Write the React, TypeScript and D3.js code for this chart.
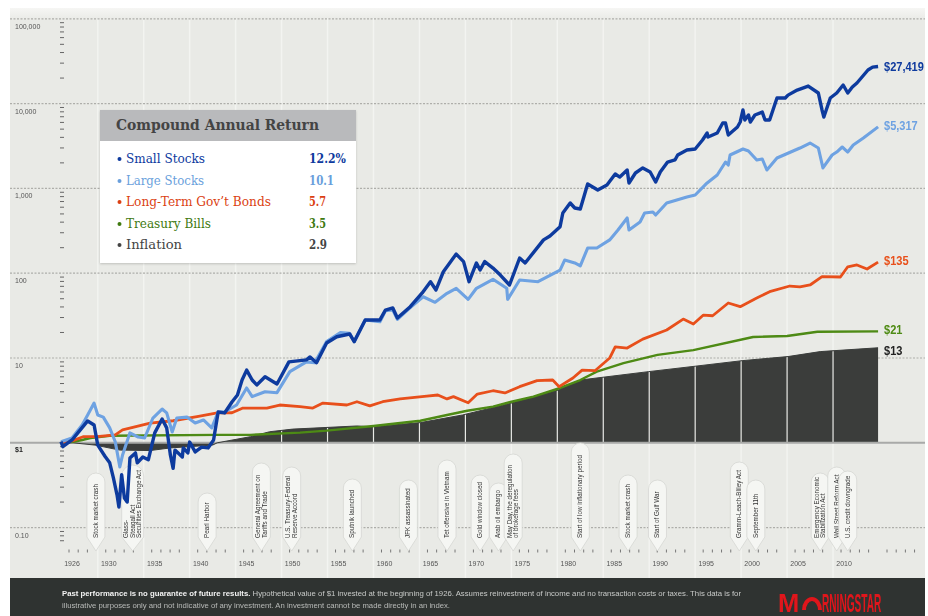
import React from "react";
import * as d3 from "d3";

const smallYears = [1926.0,1926.2,1927.2,1928.1,1928.9,1929.6,1930.0,1930.8,1931.3,1931.7,1932.1,1932.3,1932.6,1932.9,1933.2,1933.5,1934.1,1934.3,1934.9,1935.5,1936.2,1937.0,1937.5,1937.9,1938.2,1938.4,1939.2,1939.3,1939.8,1940.0,1940.6,1941.3,1942.0,1942.6,1943.1,1943.8,1944.6,1945.2,1945.7,1946.2,1946.8,1947.3,1948.2,1949.5,1950.8,1952.7,1953.1,1953.8,1954.9,1956.0,1957.4,1957.9,1959.1,1960.7,1961.3,1962.1,1962.6,1964.0,1965.3,1966.2,1966.8,1967.6,1969.0,1969.8,1970.4,1971.2,1971.6,1972.1,1973.0,1973.8,1974.8,1975.9,1976.5,1978.5,1979.2,1980.3,1980.6,1981.4,1981.9,1982.5,1983.3,1984.4,1985.4,1986.3,1986.8,1987.6,1987.8,1988.5,1989.3,1990.1,1990.7,1991.2,1992.0,1992.8,1993.1,1994.1,1995.0,1995.8,1996.3,1996.4,1997.4,1998.0,1998.3,1998.6,1999.6,1999.9,2000.2,2000.4,2000.8,2001.0,2001.5,2002.3,2002.6,2003.1,2003.9,2004.8,2005.1,2006.1,2007.3,2008.4,2008.8,2009.0,2009.7,2010.4,2011.1,2011.6,2012.1,2012.6,2013.8,2014.3,2014.9];
const smallValues = [1.03,0.9,1.08,1.42,1.81,1.62,0.94,0.69,0.58,0.385,0.242,0.175,0.42,0.223,0.2,0.66,0.76,0.58,0.68,0.63,1.31,1.91,1.5,0.72,0.5,0.82,0.68,0.87,0.76,1.02,0.78,0.89,0.87,1.08,2.31,2.25,3.03,3.66,5.5,7.2,5.5,4.81,6.0,4.94,9.0,9.5,10.3,8.8,15.0,17.8,19.2,15.6,28.1,28.1,36.8,38.9,29.6,40.3,58.5,79.4,63.4,104,168,137,79.4,132,109,137,115,95,72.6,151,132,247,275,354,513,673,587,571,1127,957,1096,1479,1361,1648,1159,1520,1742,1560,1189,1560,2046,2163,2477,2838,2917,3724,4498,4036,4498,5902,5902,4266,5300,6067,8414,6412,7345,6067,7345,7943,6412,6412,11640,11640,12590,14450,16100,13340,8414,6950,11640,13340,16560,13340,15700,17500,24900,26900,27419];

const largeYears = [1926.0,1927.2,1928.3,1928.9,1929.6,1930.0,1930.6,1931.3,1931.9,1932.4,1932.7,1933.5,1934.4,1935.1,1936.0,1937.0,1937.5,1938.1,1938.6,1939.7,1940.6,1941.5,1942.4,1943.1,1943.8,1945.1,1946.2,1946.8,1948.2,1949.5,1950.9,1952.7,1953.6,1954.9,1956.4,1957.4,1957.9,1959.1,1960.7,1961.3,1962.1,1962.6,1964.0,1965.4,1966.7,1968.0,1969.0,1970.3,1971.2,1973.0,1974.5,1974.6,1975.9,1977.9,1980.3,1980.8,1981.9,1982.5,1983.3,1984.3,1985.7,1986.6,1987.6,1987.8,1989.0,1989.5,1990.4,1990.7,1991.9,1994.1,1995.0,1996.3,1997.4,1998.3,1998.6,1998.8,2000.2,2000.8,2001.7,2002.3,2002.8,2003.9,2006.4,2007.5,2008.4,2008.9,2009.9,2010.4,2011.0,2011.6,2012.2,2013.3,2014.9];
const largeValues = [1.03,1.14,1.62,2.13,2.94,2.13,2.01,1.5,1.03,0.52,0.72,1.31,1.17,1.14,1.96,2.5,2.25,1.34,1.96,2.01,1.71,1.86,1.5,2.31,2.31,2.79,4.43,3.5,4.0,3.9,6.9,9.0,8.8,15.6,19.9,19.6,15.6,28.1,26.8,36.1,36.8,28.6,39.2,52.8,45.4,57.9,66.4,49.2,66.4,84.7,66.4,49.2,83.2,79.4,109,143,132,122,198,198,247,323,448,323,402,513,527,485,673,792,836,1159,1439,2046,1888,2477,2917,2761,2163,2223,1648,2282,2993,3429,2993,1742,2477,2685,3076,2685,3251,3926,5317];

const bondYears = [1926.0,1927.3,1928.4,1929.9,1931.9,1932.7,1935.7,1938.2,1940.8,1943.0,1944.6,1945.8,1948.4,1949.8,1952.0,1953.4,1954.5,1957.1,1958.2,1959.6,1961.0,1962.9,1965.8,1967.0,1968.0,1968.7,1970.3,1971.3,1973.0,1974.3,1975.9,1977.8,1979.5,1980.2,1981.7,1982.7,1984.1,1985.7,1986.3,1987.6,1989.3,1991.9,1993.7,1994.8,1995.9,1996.9,1998.6,1999.9,2001.7,2003.1,2005.3,2006.4,2007.5,2008.8,2010.8,2011.6,2012.6,2013.7,2014.9];
const bondValues = [1.0,1.06,1.18,1.18,1.24,1.42,1.71,1.82,2.03,2.25,2.26,2.57,2.57,2.79,2.67,2.57,2.94,2.79,3.05,2.72,3.05,3.29,3.56,3.66,3.29,3.5,2.97,3.76,4.11,3.87,4.59,5.4,5.5,4.59,5.81,7.2,7.08,10.0,13.5,13.1,16.7,21.4,28.8,25.2,32.1,31.5,44.5,40.3,51,60.5,70.6,68.8,72.6,91,90.2,119,125,112,135];

const billYears = [1926.0,1927.3,1928.3,1929.2,1931.3,1943.0,1946.6,1952.0,1954.9,1960.0,1962.9,1965.1,1968.0,1970.2,1973.0,1974.9,1977.4,1980.3,1982.5,1984.3,1987.2,1990.9,1994.8,2001.3,2005.0,2008.3,2014.9];
const billValues = [1.0,1.03,1.08,1.14,1.21,1.24,1.24,1.32,1.39,1.58,1.71,1.82,2.13,2.39,2.67,3.03,3.5,4.43,5.5,6.9,8.7,10.9,12.4,17.7,18.2,20.4,20.6];

const inflationYears = [1926.0,1927.3,1929.7,1932.4,1935.7,1937.9,1942.5,1943.0,1946.6,1948.7,1951.2,1958.2,1960.0,1965.1,1969.7,1974.9,1980.1,1982.5,1989.9,1995.0,2000.1,2005.1,2008.6,2014.9];
const inflationValues = [1.0,1.0,0.94,0.82,0.81,0.87,0.94,1.0,1.18,1.35,1.45,1.58,1.55,1.73,2.13,2.92,4.19,5.5,6.9,8.0,9.3,10.4,11.9,13.2];

const xLabelYears = [1926,1930,1935,1940,1945,1950,1955,1960,1965,1970,1975,1980,1985,1990,1995,2000,2005,2010];
const decades = [100000,10000,1000,100,10,0.1];
const yLabels = ["100,000","10,000","1,000","100","10","$1","0.10"];
const yLabelValues = [100000,10000,1000,100,10,1,0.1];

const legendNames = ["Small Stocks","Large Stocks","Long-Term Gov\u2019t Bonds","Treasury Bills","Inflation"];
const legendReturns = ["12.2%","10.1","5.7","3.5","2.9"];
const endLabels = ["$27,419","$5,317","$135","$21","$13"];
const endValues = [27419,5317,135,20.6,13.2];

const eventYears = [1929.8,1933.8,1941.9,1947.8,1951.1,1957.7,1963.8,1968,1971.6,1973.6,1975.2,1982.5,1987.7,1990.9,1999.8,2001.6,2008.6,2010.4,2011.6];
const eventLabels = [
  ["Stock market crash"],
  ["Glass-","Steagall Act","Securities Exchange Act"],
  ["Pearl Harbor"],
  ["General Agreement on","Tariffs and Trade"],
  ["U.S. Treasury-Federal","Reserve Accord"],
  ["Sputnik launched"],
  ["JFK assassinated"],
  ["Tet offensive in Vietnam"],
  ["Gold window closed"],
  ["Arab oil embargo"],
  ["May Day, the deregulation","of brokerage fees"],
  ["Start of low inflationary period"],
  ["Stock market crash"],
  ["Start of Gulf War"],
  ["Gramm-Leach-Bliley Act"],
  ["September 11th"],
  ["Emergency Economic","Stabilization Act"],
  ["Wall Street Reform Act"],
  ["U.S. credit downgrade"],
];
const eventTops = [473,465,493,463,467,479,480,460,475,483,454,443,475,480,462,480,473,467,471];

const colors = ["#0f3a9e","#6ea2e2","#e8501a","#4d8a12","#222"];
const legendColors = ["#0d3a9e","#6a9fdc","#db3f12","#3f7a10","#444"];

const x = d3.scaleLinear().domain([1926, 2015]).range([61, 879]);
const y = d3.scaleLog().domain([0.1, 100000]).range([527.6, 18.8]);

const pairs = (a: number[], b: number[]) => a.map((t, i) => [t, b[i]] as [number, number]);
const line = d3.line<[number, number]>().x(d => x(d[0])).y(d => y(d[1])).curve(d3.curveLinear);
const area = d3.area<[number, number]>().x(d => x(d[0])).y0(y(1)).y1(d => y(d[1]));

const minorTicks: number[] = [];
[0.1, 1, 10, 100, 1000, 10000].forEach(d => {
  for (let k = 2; k <= 9; k++) minorTicks.push(d * k);
});
minorTicks.push(0.09, 0.08, 0.07);

const yearTicks = d3.range(1926, 2019).filter(t => t % 5 !== 4);
const gridYears = d3.range(1930, 2015, 5);

function calloutPath(cx: number, top: number, w: number) {
  const r = w / 2;
  const tip = 551;
  return `M${cx - r},${top + r} A${r},${r} 0 0 1 ${cx + r},${top + r} L${cx + r},${tip - 14} L${cx},${tip} L${cx - r},${tip - 14} Z`;
}

const SANS = "'Liberation Sans', Arial, sans-serif";
const SERIF = "'DejaVu Serif', serif";
const endOffsets = [5, 3, 3, 3, 7];
const legendBaselines = [163, 185, 206, 228, 249];
const legendNameWidths = [79, 78, 145, 85, 56];
const legendValueWidths = [37, 25, 17, 17, 18];

export default function App() {
  return (
    <svg width={928} height={616} style={{ position: "absolute", left: 0, top: 0, display: "block", background: "#fff" }}>
      <defs>
        <filter id="soft" x="-5%" y="-5%" width="110%" height="110%">
          <feGaussianBlur stdDeviation="0.6" />
        </filter>
        <filter id="softText" x="-5%" y="-5%" width="110%" height="110%">
          <feGaussianBlur stdDeviation="0.45" />
        </filter>
        <filter id="shadow" x="-5%" y="-5%" width="110%" height="110%">
          <feDropShadow dx="0" dy="1" stdDeviation="1.2" floodColor="#000" floodOpacity="0.18" />
        </filter>
        <linearGradient id="bgFade" x1="0" x2="0" y1="0" y2="1">
          <stop offset="0" stopColor="#f6f6f4" />
          <stop offset="1" stopColor="#e9eae6" />
        </linearGradient>
        <clipPath id="areaClip"><path d={area(pairs(inflationYears, inflationValues)) || ""} /></clipPath>
      </defs>

      <rect x={10} y={8} width={915} height={12} fill="url(#bgFade)" />
      <rect x={10} y={20} width={915} height={558} fill="#e9eae6" />

      <g filter="url(#soft)">
        {gridYears.map(t => (
          <line key={t} x1={x(t)} x2={x(t)} y1={18} y2={578} stroke="#f3f4f1" strokeWidth={1.4} />
        ))}
        {decades.map(d => (
          <line key={d} x1={10} x2={925} y1={y(d)} y2={y(d)} stroke="#aeaeaa" strokeWidth={1.2} strokeDasharray="2 1.5" />
        ))}
        <path d={area(pairs(inflationYears, inflationValues)) || ""} fill="#3a3d3b" />
        <g clipPath="url(#areaClip)">
          {gridYears.filter(t => t >= 1950).map(t => (
            <line key={t} x1={x(t)} x2={x(t)} y1={y(1)} y2={340} stroke="#e9eae6" strokeWidth={1.2} />
          ))}
        </g>
        <line x1={10} x2={925} y1={y(1)} y2={y(1)} stroke="#a9aaa8" strokeWidth={2} />

        {minorTicks.map(v => (
          <line key={v} x1={60} x2={64} y1={y(v)} y2={y(v)} stroke="#666" strokeWidth={1} />
        ))}
        {yearTicks.map(t => (
          <line key={t} x1={x(t) + 8} x2={x(t) + 8} y1={549.5} y2={552.5} stroke="#777" strokeWidth={1} />
        ))}

        {eventYears.map((t, i) => {
          const cx = x(t);
          const n = eventLabels[i].length;
          const w = n === 3 ? 22 : 18;
          return (
            <g key={i}>
              <path d={calloutPath(cx, eventTops[i], w)} fill="#f5f6f3" stroke="#d6d7d3" strokeWidth={0.8} />
              {eventLabels[i].map((s, j) => (
                <text key={j} transform={`translate(${cx + 2 + (j - (n - 1) / 2) * 6.5},538) rotate(-90)`}
                  fontFamily={SANS} fontSize={6.3} fill="#333">{s}</text>
              ))}
            </g>
          );
        })}

        <path d={line(pairs(inflationYears, inflationValues)) || ""} fill="none" stroke="#3a3d3b" strokeWidth={1} />
        <path d={line(pairs(billYears, billValues)) || ""} fill="none" stroke={colors[3]} strokeWidth={2.4} strokeLinejoin="round" />
        <path d={line(pairs(bondYears, bondValues)) || ""} fill="none" stroke={colors[2]} strokeWidth={2.8} strokeLinejoin="round" />
        <path d={line(pairs(largeYears, largeValues)) || ""} fill="none" stroke={colors[1]} strokeWidth={3.1} strokeLinejoin="round" />
        <path d={line(pairs(smallYears, smallValues)) || ""} fill="none" stroke={colors[0]} strokeWidth={3.4} strokeLinejoin="round" />

        {endLabels.map((s, i) => (
          <text key={s} transform={`translate(884,${y(endValues[i]) + endOffsets[i]}) scale(0.85,1)`}
            fontFamily={SANS} fontWeight={700} fontSize={13} fill={colors[i]}>{s}</text>
        ))}

        {yLabels.map((s, i) => (
          <text key={s} x={15} y={y(yLabelValues[i]) + (s === "$1" ? 9 : 10)} fontFamily={SANS} fontSize={7}
            fontWeight={s === "$1" ? 700 : 400} fill={s === "$1" ? "#222" : "#555"}>{s}</text>
        ))}
        {xLabelYears.map(t => (
          <text key={t} x={x(t) + 11} y={566} textAnchor="middle" fontFamily={SANS} fontSize={7} fill="#555">{t}</text>
        ))}
      </g>

      <rect x={925} y={0} width={3} height={616} fill="#fff" />

      <rect x={10} y={578} width={915} height={38} fill="#2f3331" />
      <g filter="url(#softText)">
        <text x={62} y={596} fontFamily={SANS} fontSize={6.9} fill="#c8cac8" textLength={679} lengthAdjust="spacingAndGlyphs">
          <tspan fontWeight={700} fill="#f2f2f2">Past performance is no guarantee of future results.</tspan>
          {" Hypothetical value of $1 invested at the beginning of 1926. Assumes reinvestment of income and no transaction costs or taxes. This data is for"}
        </text>
        <text x={62} y={608} fontFamily={SANS} fontSize={6.9} fill="#b8bab8" textLength={388} lengthAdjust="spacingAndGlyphs">
          illustrative purposes only and not indicative of any investment. An investment cannot be made directly in an index.
        </text>
        <text transform="translate(778,612) scale(1.02,1)" fontFamily={SANS} fontWeight={700} fontSize={25} fill="#e0141a">M</text>
        <path d="M802,610 A10,13 0 0 1 822,610 L818,610 A6,9 0 0 0 806,610 Z" fill="#e0141a" />
        <text transform="translate(822,612) scale(0.405,1)" fontFamily={SANS} fontWeight={700} fontSize={25} fill="#e0141a">RNINGSTAR</text>
      </g>

      <g filter="url(#shadow)">
        <rect x={100} y={110} width={256} height={153} fill="#fff" />
      </g>
      <rect x={100} y={110} width={256} height={31} fill="#b9babc" />
      <text x={116} y={130} fontFamily={SERIF} fontWeight={700} fontSize={14.5} fill="#444" textLength={203} lengthAdjust="spacingAndGlyphs">Compound Annual Return</text>
      {legendNames.map((s, i) => (
        <g key={s}>
          <circle cx={119.5} cy={legendBaselines[i] - 4} r={2} fill={legendColors[i]} />
          <text x={126} y={legendBaselines[i]} fontFamily={SERIF} fontSize={12} fill={legendColors[i]}
            textLength={legendNameWidths[i]} lengthAdjust="spacingAndGlyphs">{s}</text>
          <text x={309} y={legendBaselines[i]} fontFamily={SERIF} fontWeight={700} fontSize={12} fill={legendColors[i]}
            textLength={legendValueWidths[i]} lengthAdjust="spacingAndGlyphs">{legendReturns[i]}</text>
        </g>
      ))}
    </svg>
  );
}
